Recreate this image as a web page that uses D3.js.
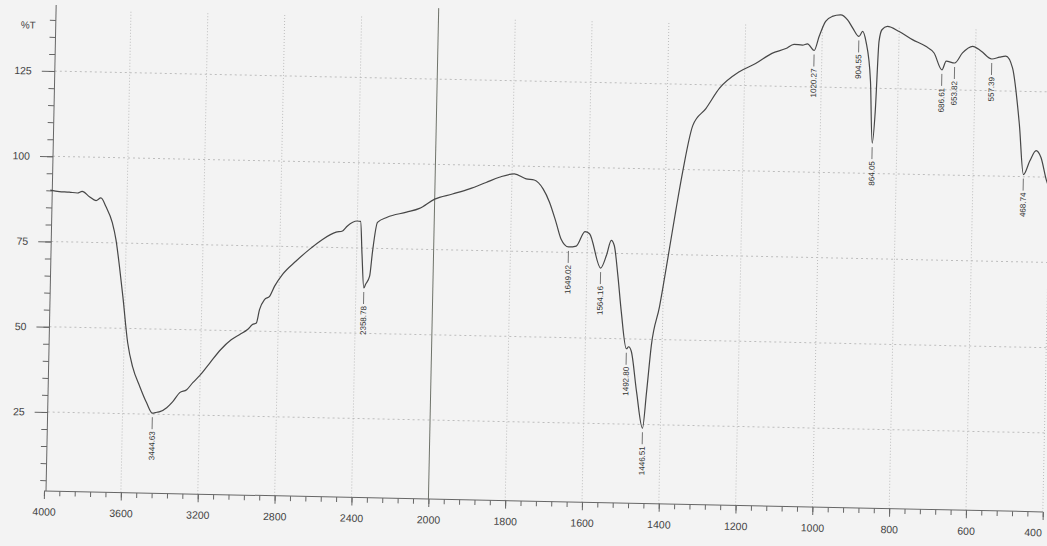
<!DOCTYPE html>
<html>
<head>
<meta charset="utf-8">
<script src="https://cdn.jsdelivr.net/npm/d3@7"></script>
<style>
  body { margin: 0; background: #f3f3f3; }
  svg { display: block; font-family: "Liberation Sans", Arial, sans-serif; }
</style>
</head>
<body>
<script>
// IR spectrum, wavenumber (cm-1) vs %T
var wavenumber = [4000, 3953, 3901, 3859, 3834, 3796, 3761, 3736, 3709, 3674, 3653, 3632, 3611, 3581, 3553, 3513, 3476,
  3444.63, 3422, 3406, 3371, 3340, 3305, 3269, 3238, 3203, 3150, 3096, 3043, 2999, 2959, 2934, 2914, 2899, 2874, 2848,
  2823, 2783, 2714, 2646, 2579, 2509, 2476, 2451, 2400, 2383, 2372, 2358.78, 2350, 2330, 2318, 2295, 2245, 2145, 2078,
  2000, 1954, 1910, 1867, 1833, 1794, 1763, 1742, 1718, 1701, 1683, 1669, 1649.02, 1629, 1607, 1595, 1564.16, 1550,
  1538, 1530, 1519, 1508, 1492.80, 1487, 1480, 1464, 1446.51, 1438, 1428, 1409, 1390, 1371, 1356, 1332, 1299, 1265,
  1214, 1172, 1130, 1094, 1073, 1051, 1038, 1020.27, 1008, 992, 975, 953, 935, 921, 904.55, 895, 886, 872, 864.05,
  858, 852, 845, 831, 800, 765, 730, 708, 686.61, 676, 653.82, 634, 608, 586, 557.39, 537, 521, 503, 482, 468.74,
  453, 437, 424, 409, 400];
var transmittance = [90.1, 89.7, 89.6, 89.4, 89.9, 88.4, 87.3, 88.1, 85.6, 80.9, 75.9, 68.1, 59.3, 45.8, 38.8, 33.0, 28.3,
  25.3, 25.6, 25.8, 27.0, 28.8, 31.5, 32.4, 34.5, 36.6, 40.5, 44.4, 47.3, 48.9, 50.4, 51.9, 52.4, 56.3, 59.3, 60.3,
  63.3, 66.8, 70.8, 74.3, 77.3, 79.5, 79.9, 81.4, 82.9, 82.8, 73.2, 63.3, 64.4, 66.8, 73.8, 82.6, 84.2, 85.8, 87.0,
  89.8, 91.4, 93.0, 95.0, 96.6, 97.7, 96.3, 96.0, 93.4, 89.6, 83.8, 78.9, 76.6, 76.9, 81.2, 80.6, 70.6, 74.3,
  78.8, 77.3, 68.5, 57.8, 47.1, 47.7, 46.4, 34.5, 23.9, 34.5, 48.3, 59.6, 73.8, 88.5, 99.3, 113.0, 118.0, 124.0,
  129.0, 131.5, 134.6, 136.1, 137.4, 137.2, 137.6, 135.7, 139.9, 144.3, 145.8, 146.3, 144.9, 142.5, 140.1, 141.6, 138.7, 127.0, 108.9,
  118.1, 138.7, 142.2, 143.2, 141.8, 139.5, 137.6, 135.7, 130.8, 133.4, 132.9, 135.9, 137.9, 136.6, 134.3, 134.9, 135.2, 131.8, 115.2, 100.6,
  104.6, 107.7, 105.7, 99.2, 96.5];

var peakWn = [3444.63, 2358.78, 1649.02, 1564.16, 1492.80, 1446.51, 1020.27, 904.55, 864.05, 686.61, 653.82, 557.39, 468.74];
var peakText = ["3444.63", "2358.78", "1649.02", "1564.16", "1492.80", "1446.51", "1020.27", "904.55", "864.05", "686.61", "653.82", "557.39", "468.74"];

var xMajor = [4000, 3600, 3200, 2800, 2400, 2000, 1800, 1600, 1400, 1200, 1000, 800, 600, 400];
var yMajor = [25, 50, 75, 100, 125];

var width = 1047, height = 546;
var axisY = 491, axisX = 46, topY = 5;

var svg = d3.select("body").append("svg")
  .attr("width", width)
  .attr("height", height);

svg.append("rect").attr("width", width).attr("height", height).attr("fill", "#f3f3f3");

// the scan is tilted a little
var g = svg.append("g").attr("transform", "rotate(1.2," + axisX + "," + axisY + ")");

// 2x expansion below 2000
var x = d3.scaleLinear().domain([4000, 2000, 400]).range([44, 428.5, 1043]);
var y = d3.scaleLinear().domain([25, 125]).range([412, 71]);

// minor ticks
var xMinor = d3.range(4000, 2000, -80).concat(d3.range(2000, 399, -40));
var yMinor = d3.range(5, 141, 5);

// grid
g.selectAll(".vgrid")
  .data(xMajor.filter(function(d) { return d != 4000 && d != 2000; }))
  .enter().append("line")
  .attr("x1", function(d) { return x(d); })
  .attr("x2", function(d) { return x(d); })
  .attr("y1", axisY).attr("y2", 10)
  .attr("stroke", "#bdbdbd")
  .attr("stroke-width", 1)
  .attr("stroke-dasharray", "1,2");

g.selectAll(".hgrid")
  .data(yMajor)
  .enter().append("line")
  .attr("x1", axisX).attr("x2", 1043)
  .attr("y1", function(d) { return y(d); })
  .attr("y2", function(d) { return y(d); })
  .attr("stroke", "#bdbdbd")
  .attr("stroke-width", 1)
  .attr("stroke-dasharray", "2,3");

g.append("line")
  .attr("x1", x(2000)).attr("x2", x(2000))
  .attr("y1", axisY).attr("y2", 0)
  .attr("stroke", "#6f736a")
  .attr("stroke-width", 1);

// axes
var xAxisG = g.append("g").attr("transform", "translate(0," + axisY + ")");
xAxisG.call(d3.axisBottom(x).tickValues(xMinor).tickSize(5).tickFormat("").tickSizeOuter(0));
xAxisG.append("g").call(d3.axisBottom(x).tickValues(xMajor).tickSize(8).tickPadding(9).tickSizeOuter(0)
  .tickFormat(d3.format("d")));

var yAxisG = g.append("g").attr("transform", "translate(" + axisX + ",0)");
yAxisG.call(d3.axisLeft(y).tickValues(yMinor).tickSize(6).tickFormat("").tickSizeOuter(0));
yAxisG.append("g").call(d3.axisLeft(y).tickValues(yMajor).tickSize(13).tickPadding(10).tickSizeOuter(0));

g.selectAll(".domain").remove();
g.selectAll(".tick line").attr("stroke", "#666");
g.selectAll(".tick text").attr("fill", "#444").style("font-size", "10.5px");

// last label sits on the right edge
xAxisG.selectAll(".tick text")
  .filter(function(d) { return d == 400; })
  .attr("text-anchor", "end")
  .attr("x", -1);

g.append("line")
  .attr("x1", 44).attr("x2", 1043)
  .attr("y1", axisY).attr("y2", axisY)
  .attr("stroke", "#666");
g.append("line")
  .attr("x1", axisX).attr("x2", axisX)
  .attr("y1", axisY).attr("y2", topY)
  .attr("stroke", "#666");

g.append("text")
  .attr("x", 26).attr("y", 29)
  .attr("text-anchor", "end")
  .attr("fill", "#444")
  .style("font-size", "10px")
  .text("%T");

// spectrum
var points = wavenumber.map(function(w, i) { return [w, transmittance[i]]; });
var line = d3.line()
  .x(function(d) { return x(d[0]); })
  .y(function(d) { return y(d[1]); })
  .curve(d3.curveMonotoneX);

g.append("path")
  .datum(points)
  .attr("d", line)
  .attr("fill", "none")
  .attr("stroke", "#474747")
  .attr("stroke-width", 1.2);

// peak labels
peakWn.forEach(function(w, i) {
  var t = transmittance[wavenumber.indexOf(w)];
  var px = x(w), py = y(t);
  g.append("line")
    .attr("x1", px).attr("x2", px)
    .attr("y1", py + 4).attr("y2", py + 16)
    .attr("stroke", "#555")
    .attr("stroke-width", 0.8);
  g.append("text")
    .attr("transform", "translate(" + px + "," + (py + 18) + ") rotate(-90)")
    .attr("text-anchor", "end")
    .attr("dy", "0.35em")
    .attr("fill", "#333")
    .style("font-size", "8px")
    .text(peakText[i]);
});
</script>
</body>
</html>
